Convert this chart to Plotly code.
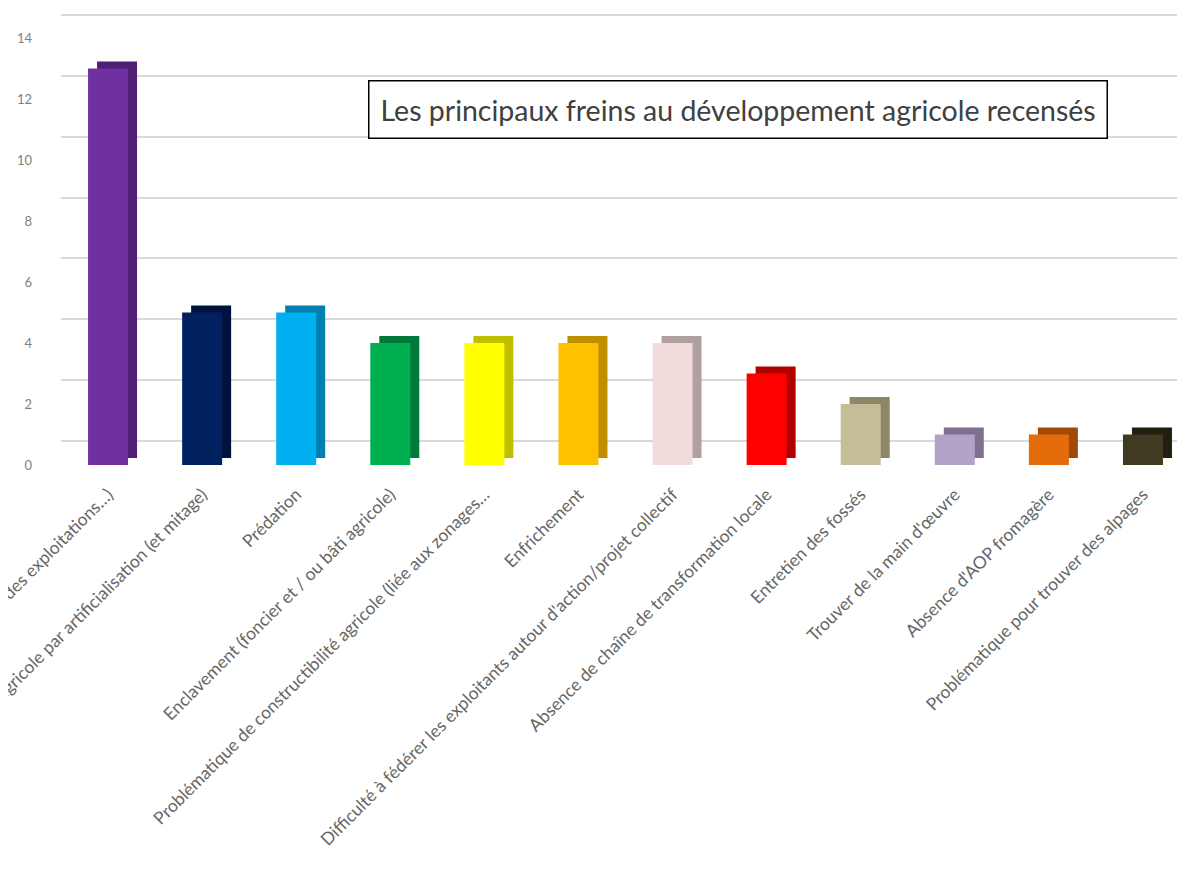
import plotly.graph_objects as go

categories = [
    "Pression sur le foncier (agrandissement des exploitations…)",
    "Perte de foncier agricole par artificialisation (et mitage)",
    "Prédation",
    "Enclavement (foncier et / ou bâti agricole)",
    "Problématique de constructibilité agricole (liée aux zonages…",
    "Enfrichement",
    "Difficulté à fédérer les exploitants autour d'action/projet collectif",
    "Absence de chaîne de transformation locale",
    "Entretien des fossés",
    "Trouver de la main d'œuvre",
    "Absence d'AOP fromagère",
    "Problématique pour trouver des alpages",
]
values = [13, 5, 5, 4, 4, 4, 4, 3, 2, 1, 1, 1]
front_colors = ["#7030A0", "#002060", "#00B0F0", "#00B050", "#FFFF00", "#FFC000",
                "#F2DCDB", "#FF0000", "#C4BD97", "#B3A2C7", "#E46C0A", "#403A22"]
side_colors = ["#4E1F73", "#00133D", "#0080B0", "#007A3A", "#BFBF00", "#BF8F00",
               "#B0A0A0", "#B00000", "#8E8766", "#7F7090", "#A04A05", "#221E10"]
title_text = "Les principaux freins au développement agricole recensés"
y_ticks = [0, 2, 4, 6, 8, 10, 12, 14]

W, H = 1185, 878
L, R, T, B = 53, 3, 5, 421
px_per_unit = 30.5
plot_w = W - L - R
plot_h = H - T - B
y_top = plot_h / px_per_unit
shift = 24 / px_per_unit
cat_px = plot_w / len(categories)
bar_w = 40 / cat_px
dx = 9 / cat_px
dy = 7 / px_per_unit

fig = go.Figure()
# depth (side/top) face
fig.add_trace(go.Bar(
    x=categories, y=values, base=[dy] * len(values),
    width=bar_w, offset=-bar_w / 2 + dx,
    marker=dict(color=side_colors, line=dict(width=0)),
    hoverinfo="skip", showlegend=False,
))
# front face
fig.add_trace(go.Bar(
    x=categories, y=values,
    width=bar_w, offset=-bar_w / 2,
    marker=dict(color=front_colors, line=dict(width=0)),
    showlegend=False,
))
# invisible trace to carry the back-wall grid axis
fig.add_trace(go.Scatter(
    x=[categories[0]], y=[0], yaxis="y2", mode="markers",
    marker=dict(opacity=0), hoverinfo="skip", showlegend=False,
))

fig.update_layout(
    width=W, height=H,
    margin=dict(l=L, r=R, t=T, b=B, pad=0),
    paper_bgcolor="white", plot_bgcolor="white",
    barmode="overlay",
    font=dict(family="Lato, 'Open Sans', sans-serif", color="#595959"),
    xaxis=dict(
        range=[-0.5, len(categories) - 0.5],
        tickangle=-45, tickfont=dict(size=17.5, color="#666666"),
        showgrid=False, zeroline=False, showline=False, ticks="",
        ticklabelstandoff=15, automargin=False,
    ),
    yaxis=dict(
        range=[0, y_top], tickvals=y_ticks, showgrid=False, zeroline=False,
        showline=False, tickfont=dict(size=13, color="#7F7F7F"),
        ticklabelstandoff=28, automargin=False,
    ),
    yaxis2=dict(
        overlaying="y", range=[-shift, y_top - shift + 0.03], tickvals=y_ticks,
        showgrid=True, gridcolor="#D9D9D9", gridwidth=1.5,
        showticklabels=False, zeroline=False, showline=False,
    ),
    annotations=[dict(
        text=title_text, xref="paper", yref="paper",
        x=(730 - L) / plot_w, y=1 - (102 - T) / plot_h,
        xanchor="center", yanchor="middle", showarrow=False,
        font=dict(size=28.5, color="#404040", family="Lato, sans-serif"),
        bordercolor="#000000", borderwidth=1.5, borderpad=11,
        bgcolor="white",
    )],
)

fig.write_html("out.html")
